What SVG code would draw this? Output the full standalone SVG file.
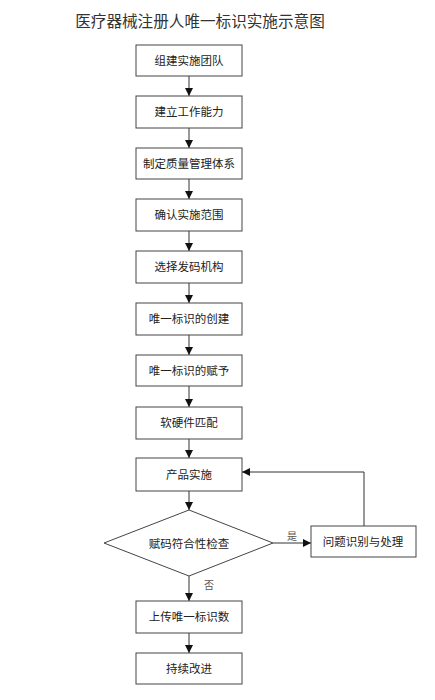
<svg xmlns="http://www.w3.org/2000/svg" width="435" height="700" viewBox="0 0 435 700">
<style>
text{font-family:"Liberation Sans","Noto Sans CJK SC",sans-serif;fill:#222;text-anchor:middle;dominant-baseline:central}
.t{font-size:15.6px;fill:#333}
.n{font-size:11.5px}
.s{font-size:10px;fill:#555}
rect,polygon.d{fill:#fff;stroke:#444;stroke-width:1}
.c{stroke:#333;stroke-width:1;fill:none}
</style>
<defs>
<marker id="a" viewBox="0 0 10 10" refX="10" refY="5" markerWidth="8" markerHeight="8" markerUnits="userSpaceOnUse" orient="auto">
<path d="M0,0L10,5L0,10z" fill="#111"/>
</marker>
</defs>
<rect width="435" height="700" style="fill:#fff;stroke:none"/>
<text class="t" x="200" y="21">医疗器械注册人唯一标识实施示意图</text>
<g id="connectors">
<line class="c" x1="189" y1="76" x2="189" y2="96" marker-end="url(#a)"/>
<line class="c" x1="189" y1="128" x2="189" y2="148" marker-end="url(#a)"/>
<line class="c" x1="189" y1="179" x2="189" y2="199" marker-end="url(#a)"/>
<line class="c" x1="189" y1="231" x2="189" y2="251" marker-end="url(#a)"/>
<line class="c" x1="189" y1="283" x2="189" y2="303" marker-end="url(#a)"/>
<line class="c" x1="189" y1="335" x2="189" y2="355" marker-end="url(#a)"/>
<line class="c" x1="189" y1="386" x2="189" y2="407" marker-end="url(#a)"/>
<line class="c" x1="189" y1="439" x2="189" y2="458" marker-end="url(#a)"/>
<line class="c" x1="189" y1="491" x2="189" y2="510" marker-end="url(#a)"/>
<line class="c" x1="273" y1="543" x2="311" y2="543" marker-end="url(#a)"/>
<polyline class="c" points="364,526 364,472 242,472" marker-end="url(#a)"/>
<line class="c" x1="189" y1="576" x2="189" y2="601" marker-end="url(#a)"/>
<line class="c" x1="189" y1="633" x2="189" y2="653" marker-end="url(#a)"/>
<text class="s" x="292" y="536">是</text>
<text class="s" x="209" y="585">否</text>
</g>
<g id="n1"><rect x="136" y="45" width="106" height="31"/><text class="n" x="189" y="61">组建实施团队</text></g>
<g id="n2"><rect x="136" y="96" width="106" height="32"/><text class="n" x="189" y="112">建立工作能力</text></g>
<g id="n3"><rect x="136" y="148" width="106" height="31"/><text class="n" x="189" y="164">制定质量管理体系</text></g>
<g id="n4"><rect x="136" y="199" width="106" height="32"/><text class="n" x="189" y="215">确认实施范围</text></g>
<g id="n5"><rect x="136" y="251" width="106" height="32"/><text class="n" x="189" y="267">选择发码机构</text></g>
<g id="n6"><rect x="136" y="303" width="106" height="32"/><text class="n" x="189" y="319">唯一标识的创建</text></g>
<g id="n7"><rect x="136" y="355" width="106" height="31"/><text class="n" x="189" y="371">唯一标识的赋予</text></g>
<g id="n8"><rect x="136" y="407" width="106" height="32"/><text class="n" x="189" y="423">软硬件匹配</text></g>
<g id="n9"><rect x="136" y="458" width="106" height="33"/><text class="n" x="189" y="475">产品实施</text></g>
<g id="n10"><polygon class="d" points="189,510 273,543 189,576 104,543"/><text class="n" x="189" y="544">赋码符合性检查</text></g>
<g id="n11"><rect x="311" y="526" width="105" height="31"/><text class="n" x="363" y="542">问题识别与处理</text></g>
<g id="n12"><rect x="136" y="601" width="106" height="32"/><text class="n" x="189" y="617">上传唯一标识数</text></g>
<g id="n13"><rect x="136" y="653" width="106" height="31"/><text class="n" x="189" y="669">持续改进</text></g>
</svg>
